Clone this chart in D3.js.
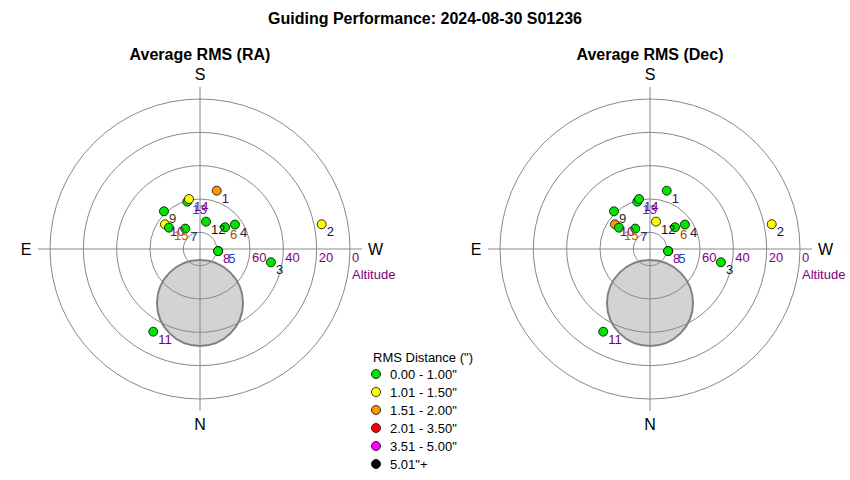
<!DOCTYPE html>
<html>
<head>
<meta charset="utf-8">
<script src="https://cdn.jsdelivr.net/npm/d3@7"></script>
<style>
  body { margin: 0; background: #fff; }
  svg { font-family: Arial, "Liberation Sans", sans-serif; }
</style>
</head>
<body>
<div id="chart"></div>
<script>
// guide frame numbers, their sky position (degrees) and RMS per axis (arcsec)
var frames = [1, 2, 3, 4, 5, 6, 7, 8, 9, 10, 11, 12, 13, 14, 15];
var altitude = [53.6, 15.5, 46.7, 64.4, 79.0, 70.1, 74.9, 79.1, 58.7, 64.3, 33.0, 73.2, 60.6, 59.3, 67.4];
var azimuth = [196, 258.5, 280.6, 235, 276.2, 229, 144.1, 276.5, 136.3, 125.2, 29.5, 192.4, 165, 167.6, 124.5];
var rmsRA = [1.72, 1.24, 0.62, 0.71, 0.55, 0.68, 0.74, 0.58, 0.81, 1.18, 0.66, 0.77, 0.85, 1.06, 0.79];
var rmsDec = [0.82, 1.31, 0.57, 0.64, 0.49, 0.72, 0.61, 0.53, 0.76, 1.63, 0.59, 1.12, 0.88, 0.93, 0.70];

// obstruction disk (alt/az of centre, radius in degrees)
var obstruction = {alt: 57.6, az: 0, radius: 25.8};

var altTicks = [0, 20, 40, 60, 80];
var binLabels = ["0.00 - 1.00\"", "1.01 - 1.50\"", "1.51 - 2.00\"", "2.01 - 3.50\"", "3.51 - 5.00\"", "5.01\"+"];
var binEdges = [1.005, 1.505, 2.005, 3.505, 5.005];
var binColors = ["#00e600", "#ffff00", "#ff9900", "#ff0000", "#ff00ff", "#000000"];
var labelColors = ["#3c1450", "#101030", "#102050", "#182040", "#2040c0", "#a05000", "#203060",
  "#800080", "#303010", "#800080", "#700070", "#101010", "#2040c0", "#800080", "#c06000"];

var width = 850, height = 480, R = 150;

var svg = d3.select("#chart").append("svg")
  .attr("width", width)
  .attr("height", height);

svg.append("text")
  .attr("x", 425).attr("y", 24)
  .attr("text-anchor", "middle")
  .style("font-weight", "bold").style("font-size", "16px")
  .text("Guiding Performance: 2024-08-30 S01236");

var color = d3.scaleThreshold().domain(binEdges).range(binColors);
var rScale = d3.scaleLinear().domain([90, 0]).range([0, R]);

function drawPolar(cx, title, rms) {
  var g = svg.append("g").attr("transform", "translate(" + cx + ",249)");

  function proj(alt, az) {
    var r = rScale(alt), a = az * Math.PI / 180;
    return [-r * Math.sin(a), r * Math.cos(a)];
  }

  svg.append("text")
    .attr("x", cx).attr("y", 60)
    .attr("text-anchor", "middle")
    .style("font-weight", "bold").style("font-size", "16px")
    .text(title);

  // disk goes under the grid, the rings show through it
  var o = proj(obstruction.alt, obstruction.az);
  g.append("circle")
    .attr("cx", o[0]).attr("cy", o[1])
    .attr("r", rScale(90 - obstruction.radius))
    .attr("fill", "#d3d3d3")
    .attr("stroke", "#808080")
    .attr("stroke-width", 2);

  g.selectAll("circle.ring")
    .data(altTicks)
    .enter().append("circle")
    .attr("class", "ring")
    .attr("r", function (d) { return rScale(d); })
    .attr("fill", "none")
    .attr("stroke", "#888")
    .attr("stroke-width", 1);

  var ext = R * 1.08;
  g.append("line").attr("x1", -ext).attr("x2", ext).attr("y1", 0).attr("y2", 0)
    .attr("stroke", "#888");
  g.append("line").attr("y1", -ext).attr("y2", ext).attr("x1", 0).attr("x2", 0)
    .attr("stroke", "#888");

  g.selectAll("text.alt")
    .data(altTicks.filter(function (d) { return d < 80; }))
    .enter().append("text")
    .attr("class", "alt")
    .attr("x", function (d) { return rScale(d) + 2; })
    .attr("y", 13)
    .attr("fill", "#800080")
    .style("font-size", "13px")
    .text(function (d) { return d; });

  g.append("text").attr("x", R + 2).attr("y", 30)
    .attr("fill", "#800080").style("font-size", "13px").text("Altitude");

  var dirs = [["S", 0, -169, "middle"], ["N", 0, 181, "middle"], ["E", -174, 6, "middle"], ["W", 168, 6, "start"]];
  g.selectAll("text.dir")
    .data(dirs)
    .enter().append("text")
    .attr("class", "dir")
    .attr("x", function (d) { return d[1]; })
    .attr("y", function (d) { return d[2]; })
    .attr("text-anchor", function (d) { return d[3]; })
    .style("font-size", "16px")
    .text(function (d) { return d[0]; });

  var pts = frames.map(function (f, i) {
    var p = proj(altitude[i], azimuth[i]);
    return {frame: f, x: p[0], y: p[1], rms: rms[i], i: i, shift: 0};
  });
  // points sitting on top of each other get their labels nudged apart
  pts.forEach(function (p, i) {
    pts.slice(0, i).forEach(function (q) {
      if (Math.abs(p.x - q.x) < 2 && Math.abs(p.y - q.y) < 2) { q.shift += 5; }
    });
  });

  g.selectAll("circle.pt")
    .data(pts)
    .enter().append("circle")
    .attr("class", "pt")
    .attr("cx", function (d) { return d.x; })
    .attr("cy", function (d) { return d.y; })
    .attr("r", 4.5)
    .attr("fill", function (d) { return color(d.rms); })
    .attr("stroke", "#000")
    .attr("stroke-width", 0.8);

  g.selectAll("text.lbl")
    .data(pts)
    .enter().append("text")
    .attr("class", "lbl")
    .attr("x", function (d) { return d.x + 5 + d.shift; })
    .attr("y", function (d) { return d.y + 12; })
    .attr("fill", function (d) { return labelColors[d.i]; })
    .style("font-size", "13px")
    .text(function (d) { return d.frame; });
}

drawPolar(200, "Average RMS (RA)", rmsRA);
drawPolar(650, "Average RMS (Dec)", rmsDec);

// legend
var lg = svg.append("g").attr("transform", "translate(376,0)");
lg.append("text").attr("x", -3).attr("y", 362)
  .style("font-size", "13px").text("RMS Distance (\")");
var items = lg.selectAll("g.item")
  .data(binLabels)
  .enter().append("g")
  .attr("class", "item")
  .attr("transform", function (d, i) { return "translate(0," + (374 + i * 18) + ")"; });
items.append("circle")
  .attr("r", 4.5)
  .attr("fill", function (d, i) { return binColors[i]; })
  .attr("stroke", "#000")
  .attr("stroke-width", 0.8);
items.append("text")
  .attr("x", 14).attr("y", 4.5)
  .style("font-size", "13px")
  .text(function (d) { return d; });
</script>
</body>
</html>
